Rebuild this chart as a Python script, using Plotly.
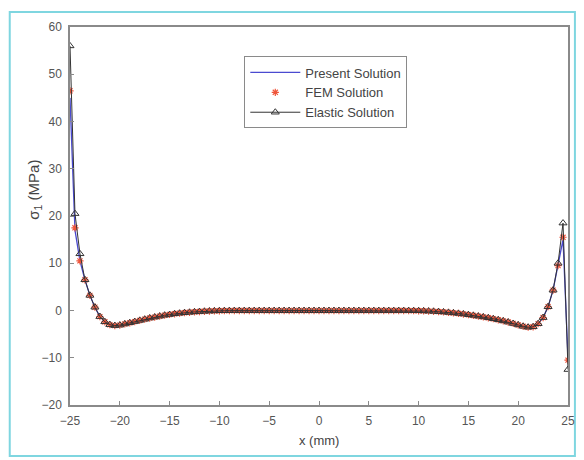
import plotly.graph_objects as go

# Sample positions along the beam (mm)
x_mm = [-25, -24.5, -24, -23.5, -23, -22.5, -22, -21.5, -21, -20.5, -20,
        -19.5, -19, -18.5, -18, -17.5, -17, -16.5, -16, -15.5, -15,
        -14.5, -14, -13.5, -13, -12.5, -12, -11.5, -11, -10.5, -10,
        -9.5, -9, -8.5, -8, -7.5, -7, -6.5, -6, -5.5, -5,
        -4.5, -4, -3.5, -3, -2.5, -2, -1.5, -1, -0.5, 0,
        0.5, 1, 1.5, 2, 2.5, 3, 3.5, 4, 4.5, 5,
        5.5, 6, 6.5, 7, 7.5, 8, 8.5, 9, 9.5, 10,
        10.5, 11, 11.5, 12, 12.5, 13, 13.5, 14, 14.5, 15,
        15.5, 16, 16.5, 17, 17.5, 18, 18.5, 19, 19.5, 20,
        20.5, 21, 21.5, 22, 22.5, 23, 23.5, 24, 24.5, 25]

# Shared interior stress values (x = -23.5 ... 23.5), MPa
interior = [6.5, 3.2, 0.7, -1.3, -2.4, -3.0, -3.2, -3.1, -2.85, -2.6,
            -2.35, -2.1, -1.85, -1.6, -1.4, -1.2, -1.0, -0.85, -0.7, -0.58,
            -0.47, -0.38, -0.3, -0.23, -0.17, -0.12, -0.09, -0.06, -0.04, -0.03,
            -0.02, -0.02, -0.02, -0.02, -0.02, -0.02, -0.02, -0.02, -0.02, -0.02,
            -0.02, -0.02, -0.02, -0.02, -0.02, -0.02, -0.02, -0.02, -0.02, -0.02,
            -0.02, -0.02, -0.02, -0.02, -0.02, -0.02, -0.02, -0.02, -0.02, -0.02,
            -0.02, -0.02, -0.02, -0.02, -0.02,
            -0.03, -0.04, -0.06, -0.09, -0.13, -0.18, -0.24, -0.32, -0.41, -0.51,
            -0.62, -0.75, -0.89, -1.04, -1.2, -1.37, -1.55, -1.75, -1.97, -2.2,
            -2.45, -2.75, -3.05, -3.35, -3.55, -3.45, -2.8, -1.5, 0.8, 4.3]

# Edge values (x = -25, -24.5, -24 and x = 24, 24.5, 25)
present_left = [45, 17, 10.5]
present_right = [9.5, 15, -10]
fem_left = [46.5, 17.5, 10.5]
fem_right = [9.5, 15.5, -10.5]
elastic_left = [56, 20.5, 12]
elastic_right = [10, 18.5, -12.5]

present = present_left + interior + present_right
fem = fem_left + interior + fem_right
elastic = elastic_left + interior + elastic_right

x_ticks = [-25, -20, -15, -10, -5, 0, 5, 10, 15, 20, 25]
y_ticks = [-20, -10, 0, 10, 20, 30, 40, 50, 60]

FONT = "Liberation Sans, Arial, sans-serif"

fig = go.Figure()
fig.add_trace(go.Scatter(x=x_mm, y=present, mode="lines", name="Present Solution",
                         line=dict(color="#4a4ad0", width=1.3)))
fig.add_trace(go.Scatter(x=x_mm, y=fem, mode="markers", name="FEM Solution",
                         marker=dict(symbol="asterisk-open", size=6,
                                     line=dict(color="#d42020", width=1.2))))
fig.add_trace(go.Scatter(x=x_mm, y=elastic, mode="lines+markers", name="Elastic Solution",
                         line=dict(color="#333333", width=1),
                         marker=dict(symbol="triangle-up-open", size=7, color="#333333",
                                     line=dict(color="#333333", width=1))))

axis_common = dict(showline=True, linecolor="#8a8a8a", linewidth=1.5, mirror=True,
                   ticks="inside", ticklen=4, tickcolor="#8a8a8a", showgrid=False,
                   zeroline=False, tickfont=dict(family=FONT, size=12, color="#555555"))

fig.update_xaxes(range=[-25, 25], tickvals=x_ticks, ticklabelstandoff=4, **axis_common)
fig.update_yaxes(range=[-20, 60], tickvals=y_ticks, ticklabelstandoff=4, **axis_common)

fig.update_layout(
    width=584, height=460,
    margin=dict(l=70, r=9, t=27, b=55),
    paper_bgcolor="white", plot_bgcolor="white",
    showlegend=True,
    legend=dict(x=0.35, y=0.922, xanchor="left", yanchor="top",
                bgcolor="white", bordercolor="#8a8a8a", borderwidth=1,
                font=dict(family=FONT, size=13, color="#444444"),
                tracegroupgap=0, itemwidth=50),
    annotations=[
        dict(text="σ<sub>1</sub> (MPa)", xref="paper", yref="paper",
             x=-0.095, y=0.57, textangle=-90, showarrow=False,
             font=dict(family=FONT, size=15, color="#444444")),
        dict(text="x (mm)", xref="paper", yref="paper",
             x=0.5, y=-0.093, yanchor="middle", showarrow=False,
             font=dict(family=FONT, size=13, color="#444444")),
    ],
    shapes=[
        dict(type="rect", xref="paper", yref="paper",
             x0=-0.121, x1=1.0139, y0=-0.1349, y1=1.0397,
             line=dict(color="#7fd6e0", width=2), fillcolor="rgba(0,0,0,0)",
             layer="below"),
    ],
)

fig.write_html("out.html")
